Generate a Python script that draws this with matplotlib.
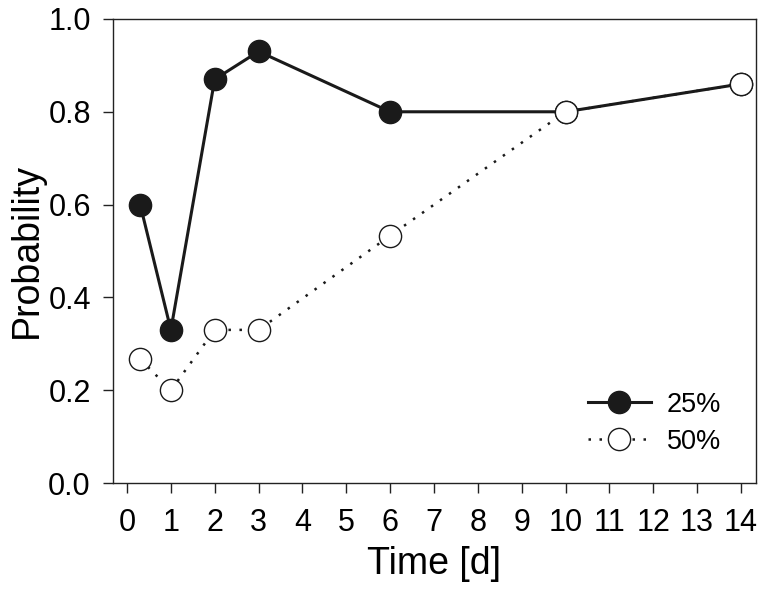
import matplotlib
matplotlib.use("Agg")
import matplotlib.pyplot as plt

plt.rcParams['font.family'] = ['Liberation Sans', 'DejaVu Sans']

# data
days = [0.3, 1, 2, 3, 6, 10, 14]
p25 = [0.60, 0.33, 0.87, 0.93, 0.80, 0.80, 0.86]
p50 = [0.267, 0.20, 0.33, 0.33, 0.533, 0.80, 0.86]
xticks = list(range(0, 15))
yticks = [0.0, 0.2, 0.4, 0.6, 0.8, 1.0]

fig = plt.figure(figsize=(7.65, 5.91), dpi=100)
ax = fig.add_axes([0.1477, 0.1827, 0.8403, 0.7852])

ax.plot(days, p25, '-', color='#1a1a1a', lw=2.2, marker='o', ms=16,
        mfc='#1a1a1a', mec='#1a1a1a', label='25%', zorder=2)
ax.plot(days, p50, linestyle=(0, (1, 3.4)), color='#1a1a1a', lw=1.8, marker='o', ms=16,
        mfc='white', mec='#1a1a1a', mew=1.0, label='50%', zorder=3)

ax.set_xlim(-0.32, 14.34)
ax.set_ylim(0, 1.0)
ax.set_xticks(xticks)
ax.set_yticks(yticks)
ax.set_yticklabels([f"{v:.1f}" for v in yticks])
ax.tick_params(direction='out', length=7, width=1, labelsize=22, color='#222222')
ax.tick_params(axis='x', pad=11)
ax.tick_params(axis='y', pad=9)
for s in ax.spines.values():
    s.set_linewidth(1.0)
    s.set_color('#222222')

ax.set_xlabel('Time [d]', fontsize=27, labelpad=6)
ax.set_ylabel('Probability', fontsize=27, labelpad=2)

ax.legend(loc='lower right', frameon=False, fontsize=19.5, handlelength=2.3,
          handletextpad=0.6, borderaxespad=0, labelspacing=0.4,
          bbox_to_anchor=(0.963, 0.038))

fig.savefig('out.png', dpi=100)
